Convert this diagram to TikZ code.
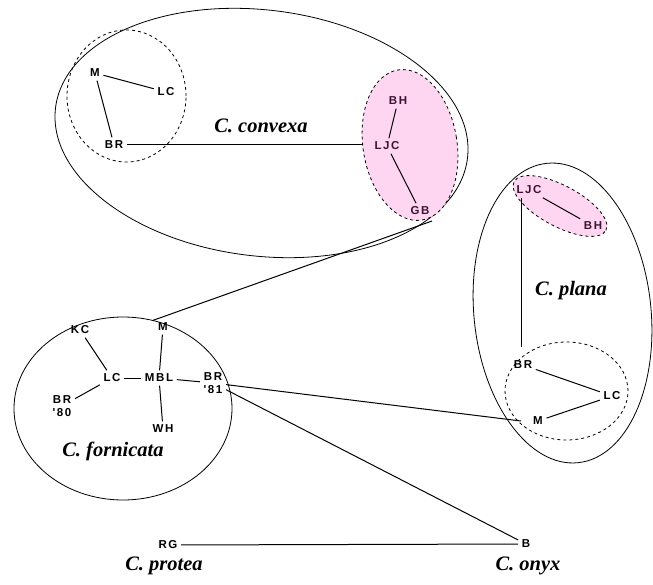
\documentclass[tikz,border=0pt]{standalone}
\usepackage{fontspec}
\usetikzlibrary{shapes.geometric}
\newfontfamily\labfont[LetterSpace=14]{Liberation Sans}
\newfontfamily\spfont{Liberation Serif}
\definecolor{pinkfill}{RGB}{255,214,242}
\definecolor{pinktext}{RGB}{60,20,50}
\begin{document}
\begin{tikzpicture}[x=1pt,y=1pt,
  lab/.style={font=\labfont\bfseries\fontsize{11.5}{13}\selectfont,inner sep=3.5pt,align=center},
  plab/.style={lab,text=pinktext},
  species/.style={font=\spfont\bfseries\itshape\fontsize{20.5}{22}\selectfont,inner sep=0pt},
  group/.style={ellipse,draw,line width=0.8pt,inner sep=0pt},
  dgroup/.style={ellipse,draw,dashed,line width=0.8pt,inner sep=0pt},
  pgroup/.style={ellipse,draw,dashed,fill=pinkfill,line width=0.8pt,inner sep=0pt},
  link/.style={line width=1pt}]
\useasboundingbox (0,0) rectangle (653,-585);

% outer groups
\node[group,minimum width=415pt,minimum height=246pt,rotate=-7] (convex) at (261.5,-133) {};
\node[group,minimum width=177pt,minimum height=301pt,rotate=6] (plana) at (562.5,-313) {};
\node[group,minimum width=218pt,minimum height=183pt] (forn) at (123,-408.5) {};

% inner groups
\node[dgroup,minimum width=119pt,minimum height=132pt] (cdash) at (126.5,-96) {};
\node[pgroup,minimum width=94pt,minimum height=152pt,rotate=9] (cpink) at (410,-145) {};
\node[pgroup,minimum width=104pt,minimum height=41pt,rotate=-28] (ppink) at (560,-206) {};
\node[dgroup,minimum width=123pt,minimum height=98pt] (pdash) at (566.5,-391) {};

% C. convexa
\node[lab] (c1M) at (95,-73) {M};
\node[lab] (c1LC) at (166,-92) {LC};
\node[lab] (c1BR) at (114,-145) {BR};
\node[plab] (cBH) at (398,-101) {BH};
\node[plab] (cLJC) at (387,-146) {LJC};
\node[plab] (cGB) at (420,-211) {GB};
\node[species] (convexlab) at (261,-126) {C. convexa};
\coordinate (gbend) at (432,-221);

% C. fornicata
\node[lab] (fKC) at (80,-330) {KC};
\node[lab] (fM) at (163,-327) {M};
\node[lab] (fLC) at (112,-378) {LC};
\node[lab] (fMBL) at (159,-378) {MBL};
\node[lab] (fBR81) at (213,-383) {BR\\'81};
\node[lab] (fBR80) at (62,-406) {BR\\'80};
\node[lab] (fWH) at (163,-429) {WH};
\node[species] (fornlab) at (113,-451) {C. fornicata};

% C. plana
\node[plab] (pLJC) at (529,-190) {LJC};
\node[plab] (pBH) at (593,-226) {BH};
\node[lab] (pBR) at (523,-365) {BR};
\node[lab] (pLC) at (612,-396) {LC};
\node[lab] (pM) at (538,-421) {M};
\node[species] (planalab) at (571,-291) {C. plana};
\coordinate (ptop) at (521.5,-347);

% C. onyx, C. protea
\node[lab] (oB) at (526,-544) {B};
\node[species] (onyxlab) at (528,-566) {C. onyx};
\node[lab] (pRG) at (168,-545) {RG};
\node[species] (protealab) at (164,-566) {C. protea};

% connectors
\draw[link] (c1M) -- (c1LC);
\draw[link] (c1M) -- (c1BR);
\draw[link] (c1BR.east) -- ([xshift=-9pt]cLJC.west |- c1BR.east);
\draw[link] (cBH) -- (cLJC);
\draw[link] (cLJC) -- (cGB);
\draw[link] (forn.71) -- (gbend);

\draw[link] (fKC) -- (fLC);
\draw[link] (fLC) -- (fBR80);
\draw[link] (fLC) -- (fMBL);
\draw[link] (fMBL) -- (fBR81);
\draw[link] (fM) -- (fMBL);
\draw[link] (fMBL) -- (fWH);

\draw[link] (fBR81) -- ([xshift=-17pt]pM.center);
\draw[link] (fBR81) -- (oB);
\draw[link] (pRG) -- (oB);

\draw[link] (pLJC) -- (pBH);
\draw[link] (pLJC.south -| ptop) -- (ptop);
\draw[link] (pBR) -- (pLC);
\draw[link] (pLC) -- (pM);
\end{tikzpicture}
\end{document}
